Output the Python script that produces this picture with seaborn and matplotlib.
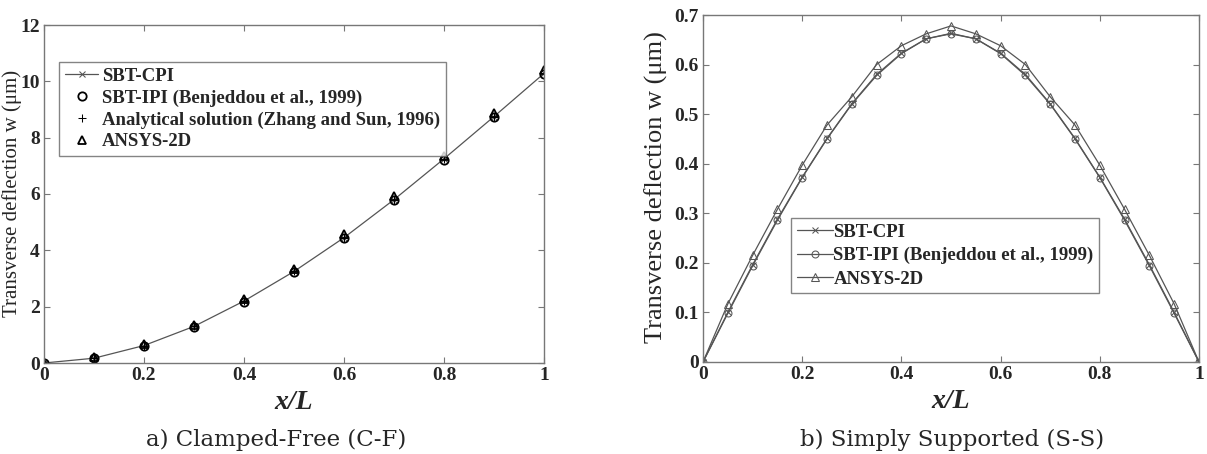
import numpy as np
import pandas as pd
import seaborn as sns
import matplotlib.pyplot as plt

# ---- data: clamped-free ----
x_cf = [0, 0.1, 0.2, 0.3, 0.4, 0.5, 0.6, 0.7, 0.8, 0.9, 1.0]
w_cf_cpi = [0, 0.17, 0.62, 1.30, 2.20, 3.25, 4.45, 5.80, 7.25, 8.75, 10.28]
w_cf_ipi = [0, 0.16, 0.60, 1.28, 2.18, 3.22, 4.43, 5.78, 7.22, 8.73, 10.25]
w_cf_ana = [0, 0.17, 0.62, 1.30, 2.20, 3.25, 4.45, 5.80, 7.25, 8.75, 10.28]
w_cf_ansys = [0, 0.20, 0.66, 1.36, 2.28, 3.34, 4.58, 5.92, 7.34, 8.86, 10.42]

# ---- data: simply supported ----
x_ss = [0, 0.05, 0.1, 0.15, 0.2, 0.25, 0.3, 0.35, 0.4, 0.45, 0.5,
        0.55, 0.6, 0.65, 0.7, 0.75, 0.8, 0.85, 0.9, 0.95, 1.0]
w_ss_cpi = [0, 0.100, 0.196, 0.288, 0.373, 0.451, 0.521, 0.580, 0.623, 0.652, 0.663,
            0.652, 0.623, 0.580, 0.521, 0.451, 0.373, 0.288, 0.196, 0.100, 0]
w_ss_ipi = [0, 0.098, 0.194, 0.286, 0.372, 0.450, 0.520, 0.578, 0.622, 0.652, 0.662,
            0.652, 0.622, 0.578, 0.520, 0.450, 0.372, 0.286, 0.194, 0.098, 0]
w_ss_ansys = [0, 0.117, 0.215, 0.308, 0.397, 0.478, 0.535, 0.600, 0.638, 0.662, 0.678,
              0.662, 0.638, 0.600, 0.535, 0.478, 0.397, 0.308, 0.215, 0.117, 0]

labels_cf = ["SBT-CPI", "SBT-IPI (Benjeddou et al., 1999)",
             "Analytical solution (Zhang and Sun, 1996)", "ANSYS-2D"]
labels_ss = ["SBT-CPI", "SBT-IPI (Benjeddou et al., 1999)", "ANSYS-2D"]

sns.set_theme(style="white")
plt.rcParams['font.family'] = ['Liberation Serif', 'DejaVu Serif']

fig = plt.figure(figsize=(12.07, 4.54), dpi=100)
ax1 = fig.add_axes([44 / 1207, 1 - 363 / 454, 500 / 1207, 338 / 454])
ax2 = fig.add_axes([703 / 1207, 1 - 362 / 454, 496 / 1207, 347 / 454])

lc = "#555555"
ylab = "Transverse deflection w (\u03bcm)"

# ---- left panel ----
sns.lineplot(x=x_cf, y=w_cf_cpi, ax=ax1, color=lc, lw=0.9, marker='x',
             markersize=4, markeredgecolor=lc, label=labels_cf[0])
sns.lineplot(x=x_cf, y=w_cf_ipi, ax=ax1, color='black', linestyle='none', marker='o',
             markersize=6, markerfacecolor='none', markeredgecolor='black',
             markeredgewidth=1.3, label=labels_cf[1])
sns.lineplot(x=x_cf, y=w_cf_ana, ax=ax1, color='black', linestyle='none', marker='+',
             markersize=6, markeredgecolor='black', label=labels_cf[2])
sns.lineplot(x=x_cf, y=w_cf_ansys, ax=ax1, color='black', linestyle='none', marker='^',
             markersize=6, markerfacecolor='none', markeredgecolor='black',
             markeredgewidth=1.3, label=labels_cf[3])

ax1.set_xlim(0, 1)
ax1.set_ylim(0, 12)
ax1.set_xticks([0, 0.2, 0.4, 0.6, 0.8, 1])
ax1.set_xticklabels(['0', '0.2', '0.4', '0.6', '0.8', '1'])
ax1.set_yticks(range(0, 13, 2))
ax1.set_ylabel(ylab, fontsize=15)
# label anchor is the right edge of the rotated text
ax1.yaxis.set_label_coords((22 - 44) / 500, (363 - 193) / 338)
ax1.set_xlabel("x/L", fontsize=20, fontweight='bold', style='italic', labelpad=4)
leg1 = ax1.legend(loc='upper left', bbox_to_anchor=(0.03, 0.89), prop=dict(size=13.5, weight='bold'),
                  frameon=True, fancybox=False, edgecolor='#666666', borderpad=0.3,
                  labelspacing=0.24, handlelength=1.8, handletextpad=0.2, borderaxespad=0)
leg1.get_frame().set_linewidth(1.0)

# ---- right panel ----
sns.lineplot(x=x_ss, y=w_ss_cpi, ax=ax2, color=lc, lw=0.9, marker='x',
             markersize=4, markeredgecolor=lc, label=labels_ss[0])
sns.lineplot(x=x_ss, y=w_ss_ipi, ax=ax2, color=lc, lw=0.9, marker='o',
             markersize=5, markerfacecolor='none', markeredgecolor=lc,
             label=labels_ss[1])
sns.lineplot(x=x_ss, y=w_ss_ansys, ax=ax2, color=lc, lw=0.9, marker='^',
             markersize=6, markerfacecolor='none', markeredgecolor=lc,
             label=labels_ss[2])

ax2.set_xlim(0, 1)
ax2.set_ylim(0, 0.7)
ax2.set_xticks([0, 0.2, 0.4, 0.6, 0.8, 1])
ax2.set_xticklabels(['0', '0.2', '0.4', '0.6', '0.8', '1'])
ax2.set_yticks(np.arange(0, 0.71, 0.1))
ax2.set_yticklabels(['0', '0.1', '0.2', '0.3', '0.4', '0.5', '0.6', '0.7'])
ax2.set_ylabel(ylab, fontsize=19)
ax2.yaxis.set_label_coords((668 - 703) / 496, (362 - 187) / 347)
ax2.set_xlabel("x/L", fontsize=20, fontweight='bold', style='italic', labelpad=4)
leg2 = ax2.legend(loc='upper left', bbox_to_anchor=(0.178, 0.415), prop=dict(size=13.5, weight='bold'),
                  frameon=True, fancybox=False, edgecolor='#666666', borderpad=0.3,
                  labelspacing=0.33, handlelength=1.9, handletextpad=0.05, borderaxespad=0)
leg2.get_frame().set_linewidth(1.0)

for ax in (ax1, ax2):
    for s in ax.spines.values():
        s.set_visible(True)
        s.set_color('#777777')
        s.set_linewidth(1.0)
    ax.tick_params(direction='in', length=4, width=0.8, color='#777777',
                   top=True, right=True, bottom=True, left=True, pad=3)
    for t in ax.get_xticklabels() + ax.get_yticklabels():
        t.set_fontsize(14)
        t.set_fontweight('bold')

fig.text(276 / 1207, 1 - 440 / 454, "a) Clamped-Free (C-F)", ha='center', va='center',
         fontsize=16.5, family='DejaVu Serif')
fig.text(952 / 1207, 1 - 440 / 454, "b) Simply Supported (S-S)", ha='center', va='center',
         fontsize=16.5, family='DejaVu Serif')

fig.savefig("out.png", dpi=100)
